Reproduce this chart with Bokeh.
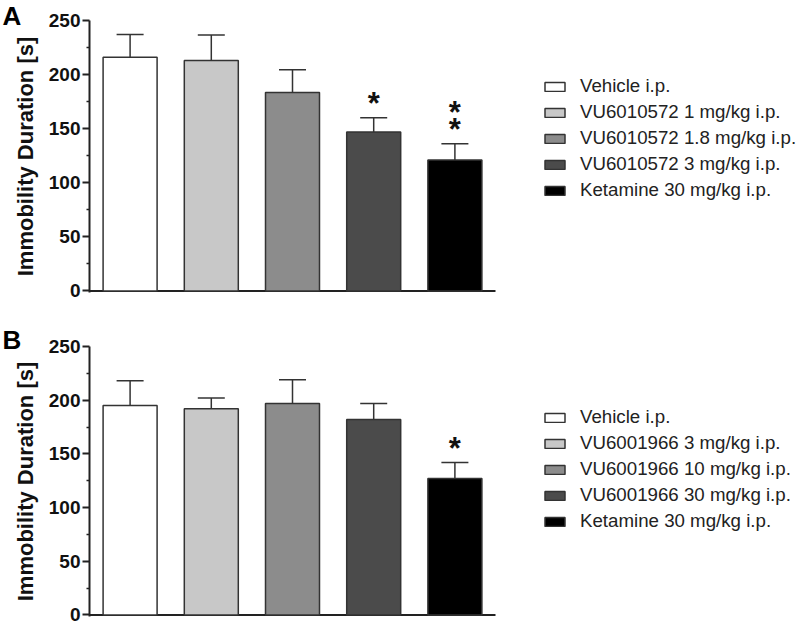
import numpy as np
from bokeh.plotting import figure
from bokeh.models import ColumnDataSource, FixedTicker, Whisker, TeeHead, Range1d
from bokeh.layouts import column
from bokeh.embed import file_html
from bokeh.resources import INLINE
from bokeh.core.properties import value

# ---- data ----
groups_A = ["Vehicle i.p.", "VU6010572 1 mg/kg i.p.", "VU6010572 1.8 mg/kg i.p.",
            "VU6010572 3 mg/kg i.p.", "Ketamine 30 mg/kg i.p."]
mean_A = [216, 213, 183.5, 147, 121]
sem_A = [21, 23.5, 21, 13, 15]
stars_A = [0, 0, 0, 1, 2]

groups_B = ["Vehicle i.p.", "VU6001966 3 mg/kg i.p.", "VU6001966 10 mg/kg i.p.",
            "VU6001966 30 mg/kg i.p.", "Ketamine 30 mg/kg i.p."]
mean_B = [195, 192, 197, 182, 127]
sem_B = [23, 10, 22, 15, 15]
stars_B = [0, 0, 0, 0, 1]

bar_colors = ["#ffffff", "#c8c8c8", "#8c8c8c", "#4b4b4b", "#000000"]
y_ticks = [0, 50, 100, 150, 200, 250]
y_minor = [25, 75, 125, 175, 225]
y_label = "Immobility Duration [s]"

FONT = "Liberation Sans"
INK = "#222222"
EDGE = "#333333"

LEFT = 89
FRAME_W = 711
AXIS_SPAN_PX = 406  # width of the bar area (x axis)


def make_panel(letter, groups, means, sems, stars, top_border, frame_h, bottom_border,
               legend_y, title_standoff):
    n = len(groups)
    x = np.arange(n) + 0.5
    upper = [m + s for m, s in zip(means, sems)]
    src = ColumnDataSource(dict(x=x, mean=means, upper=upper, color=bar_colors[:n], label=groups))

    x_end = n * FRAME_W / AXIS_SPAN_PX
    p = figure(frame_width=FRAME_W, frame_height=frame_h,
               x_range=Range1d(0, x_end), y_range=Range1d(-1.5, 250),
               output_backend="svg", toolbar_location=None,
               min_border_left=LEFT, min_border_right=0,
               min_border_top=top_border, min_border_bottom=bottom_border,
               outline_line_color=None, title=letter)
    p.xaxis.visible = False
    p.xgrid.visible = False
    p.ygrid.visible = False

    # panel letter as title, shifted to the left of the y axis
    p.title.align = "left"
    p.title.offset = -(LEFT - 2)
    p.title.standoff = title_standoff
    p.title.text_font = FONT
    p.title.text_font_style = "bold"
    p.title.text_font_size = "26px"
    p.title.text_color = "#000000"

    # baseline (x axis line) spanning the bar categories
    p.segment(x0=[0], y0=[0], x1=[n], y1=[0], line_width=2, line_color=INK)

    p.vbar(x="x", top="mean", bottom=0, width=0.665, fill_color="color",
           line_color=EDGE, line_width=1.5, source=src, legend_field="label")

    wh = Whisker(base="x", upper="upper", lower="mean", source=src,
                 upper_head=TeeHead(size=27, line_color=EDGE, line_width=1.5),
                 lower_head=None, line_color=EDGE, line_width=1.5, level="overlay")
    p.add_layout(wh)

    sx, sy, soff = [], [], []
    for xi, u, k in zip(x, upper, stars):
        for j in range(k):
            sx.append(xi)
            sy.append(u)
            soff.append(-(14 + 17.5 * j))
    if sx:
        ssrc = ColumnDataSource(dict(x=sx, y=sy, off=soff))
        p.text(x="x", y="y", y_offset="off", text=value("*"), source=ssrc,
               text_align="center", text_baseline="middle",
               text_font=value(FONT), text_font_style="bold",
               text_font_size="31px", text_color="#111111")

    ax = p.yaxis[0]
    ax.ticker = FixedTicker(ticks=y_ticks, minor_ticks=y_minor)
    ax.axis_label = y_label
    ax.axis_label_text_font = FONT
    ax.axis_label_text_font_style = "bold"
    ax.axis_label_text_font_size = "22px"
    ax.axis_label_text_color = "#111111"
    ax.axis_label_standoff = 8
    ax.major_label_text_font = FONT
    ax.major_label_text_font_style = "bold"
    ax.major_label_text_font_size = "19px"
    ax.major_label_text_color = "#111111"
    ax.major_label_standoff = 2
    ax.major_tick_out = 7
    ax.major_tick_in = 0
    ax.minor_tick_out = 3
    ax.minor_tick_in = 0
    ax.axis_line_width = 2
    ax.axis_line_color = INK
    ax.major_tick_line_width = 2
    ax.major_tick_line_color = INK
    ax.minor_tick_line_width = 1.5
    ax.minor_tick_line_color = INK

    lg = p.legend[0]
    lg.location = (453, legend_y)
    lg.padding = 0
    lg.margin = 0
    lg.border_line_color = None
    lg.background_fill_alpha = 0
    lg.glyph_width = 25
    lg.glyph_height = 11
    lg.label_standoff = 13
    lg.spacing = 4
    lg.label_height = 20
    lg.label_text_font = FONT
    lg.label_text_font_size = "18.7px"
    lg.label_text_color = INK
    return p


pA = make_panel("A", groups_A, mean_A, sem_A, stars_A, 20, 272, 14, 91, -20)
pB = make_panel("B", groups_B, mean_B, sem_B, stars_B, 40, 270, 9, 84, -16)

layout = column(pA, pB)
open("out.html", "w").write(file_html(layout, INLINE))
